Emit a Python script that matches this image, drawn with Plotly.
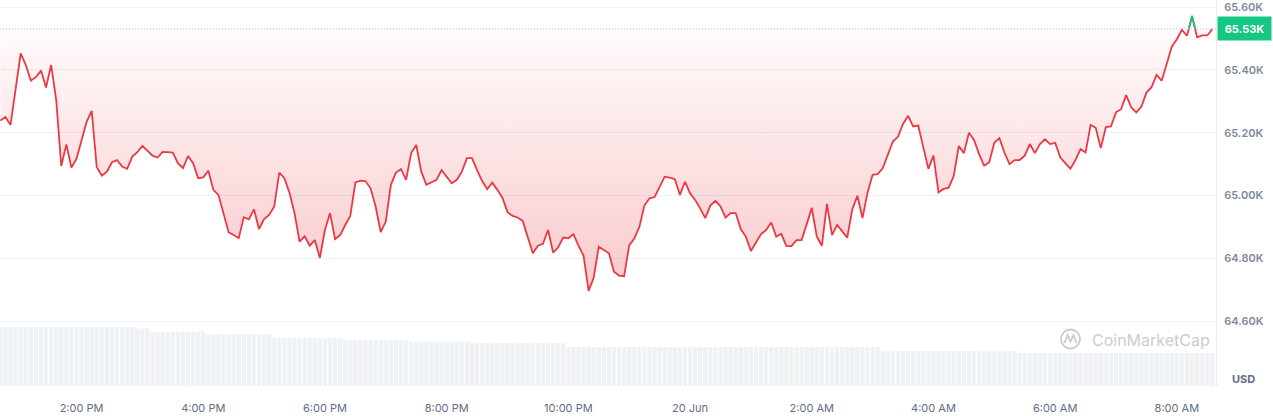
import numpy as np
import pandas as pd
import plotly.graph_objects as go

# ---------------- data ----------------
start_time = "2024-06-19 12:40"
open_price = 65531          # dotted reference line
current_label = "65.53K"

prices = [
    65239, 65250, 65225, 65340, 65453, 65416, 65366, 65377, 65398, 65344,
    65416, 65305, 65094, 65163, 65089, 65117, 65179, 65235, 65270, 65090,
    65063, 65076, 65106, 65113, 65092, 65085, 65124, 65138, 65158, 65143,
    65127, 65121, 65139, 65138, 65137, 65103, 65087, 65126, 65103, 65055,
    65058, 65079, 65018, 65002, 64944, 64883, 64874, 64864, 64931, 64924,
    64956, 64893, 64925, 64938, 64965, 65073, 65055, 65009, 64944, 64853,
    64870, 64840, 64858, 64801, 64890, 64944, 64861, 64874, 64906, 64935,
    65042, 65047, 65046, 65023, 64965, 64883, 64917, 65034, 65073, 65084,
    65050, 65135, 65161, 65076, 65034, 65041, 65050, 65081, 65060, 65039,
    65050, 65076, 65119, 65119, 65081, 65046, 65020, 65041, 65018, 64993,
    64947, 64935, 64930, 64919, 64867, 64816, 64840, 64846, 64890, 64818,
    64835, 64866, 64864, 64877, 64840, 64808, 64696, 64738, 64837, 64827,
    64816, 64757, 64745, 64743, 64841, 64863, 64900, 64968, 64991, 64995,
    65028, 65060, 65057, 65052, 65002, 65044, 65007, 64986, 64959, 64928,
    64968, 64983, 64965, 64930, 64944, 64944, 64893, 64869, 64823, 64848,
    64877, 64890, 64914, 64869, 64878, 64839, 64839, 64858, 64858, 64908,
    64961, 64869, 64840, 64973, 64874, 64906, 64885, 64866, 64956, 64999,
    64928, 65009, 65066, 65068, 65087, 65129, 65172, 65187, 65228, 65254,
    65220, 65223, 65156, 65085, 65127, 65010, 65021, 65025, 65062, 65158,
    65135, 65200, 65177, 65132, 65095, 65106, 65168, 65183, 65137, 65100,
    65113, 65113, 65127, 65164, 65135, 65164, 65179, 65164, 65168, 65122,
    65103, 65085, 65113, 65148, 65137, 65225, 65216, 65151, 65218, 65220,
    65265, 65275, 65320, 65281, 65265, 65283, 65328, 65345, 65384, 65366,
    65419, 65474, 65498, 65528, 65509, 65572, 65504, 65510, 65510, 65530,
]

# volume (relative units, read as step levels)
volume = ([29.6] * 27 + [28.8] * 3 + [27.2] * 11 + [25.8] * 13 + [24.0] * 14 +
          [23.0] * 13 + [22.2] * 12 + [21.5] * 19 + [19.4] * 62 + [17.5] * 27 +
          [16.5] * 39)

x_tick_times = ["2024-06-19 14:00", "2024-06-19 16:00", "2024-06-19 18:00",
                "2024-06-19 20:00", "2024-06-19 22:00", "2024-06-20 00:00",
                "2024-06-20 02:00", "2024-06-20 04:00", "2024-06-20 06:00",
                "2024-06-20 08:00"]
x_tick_text = ["2:00 PM", "4:00 PM", "6:00 PM", "8:00 PM", "10:00 PM",
               "20 Jun", "2:00 AM", "4:00 AM", "6:00 AM", "8:00 AM"]
y_tick_vals = [64600, 64800, 65000, 65200, 65400, 65600]
y_tick_text = ["64.60K", "64.80K", "65.00K", "65.20K", "65.40K", "65.60K"]

x_range = ["2024-06-19 12:39:36", "2024-06-20 08:38:36"]
y_range = [64393, 65623]
vol_range = [0, 193]

RED = "#ea3943"
GREEN = "#16c784"

# ---------------- build ----------------
times = pd.date_range(start_time, periods=len(prices), freq="5min")
p = np.array(prices, dtype=float)
tn = times.asi8.astype(float)

# green segments where price is above the open line
gx, gy = [], []
above = p > open_price
n = len(p)
for i in range(n):
    if not above[i]:
        continue
    if i > 0 and not above[i - 1]:
        f = (open_price - p[i - 1]) / (p[i] - p[i - 1])
        gx.append(pd.Timestamp(int(tn[i - 1] + f * (tn[i] - tn[i - 1]))))
        gy.append(open_price)
    gx.append(times[i])
    gy.append(p[i])
    if i < n - 1 and not above[i + 1]:
        f = (open_price - p[i]) / (p[i + 1] - p[i])
        gx.append(pd.Timestamp(int(tn[i] + f * (tn[i + 1] - tn[i]))))
        gy.append(open_price)
        gx.append(None)
        gy.append(None)

fig = go.Figure()

fig.add_trace(go.Bar(x=times, y=volume, yaxis="y2",
                     marker=dict(color="#eff2f5", line=dict(width=0)),
                     hoverinfo="skip"))

fig.add_trace(go.Scatter(x=times, y=[open_price] * n, mode="lines",
                         line=dict(width=0, color="rgba(0,0,0,0)"),
                         hoverinfo="skip"))
fig.add_trace(go.Scatter(
    x=times, y=prices, mode="lines",
    line=dict(color=RED, width=1.8),
    fill="tonexty",
    fillgradient=dict(type="vertical",
                      colorscale=[[0, "rgba(234,57,67,0.27)"],
                                  [1, "rgba(234,57,67,0.02)"]],
                      start=min(prices), stop=open_price),
    hoverinfo="skip"))
fig.add_trace(go.Scatter(x=gx, y=gy, mode="lines",
                         line=dict(color=GREEN, width=1.8),
                         connectgaps=False, hoverinfo="skip"))

PW, PH = 1216, 386


def px_x(v):
    return v / PW


def px_y(v):
    return (PH - v) / PH


shapes = [
    dict(type="line", xref="paper", x0=0, x1=1, yref="y",
         y0=open_price, y1=open_price,
         line=dict(color="#b3b9c4", width=1, dash="1px,2px")),
    # watermark logo
    dict(type="circle", xref="paper", yref="paper",
         x0=px_x(1061), x1=px_x(1080), y0=px_y(348.5), y1=px_y(329.5),
         line=dict(color="#c8ccd4", width=1.8)),
    dict(type="path", xref="paper", yref="paper",
         path=("M {} {} L {} {} L {} {} L {} {} L {} {}".format(
             px_x(1064.5), px_y(343), px_x(1067.5), px_y(335),
             px_x(1070.5), px_y(341.5), px_x(1073.5), px_y(335),
             px_x(1076.5), px_y(343))),
         line=dict(color="#c8ccd4", width=1.8)),
]

annotations = [
    dict(xref="paper", x=1, xanchor="left", xshift=1, yref="y", y=open_price,
         yanchor="middle", text=f"<b>{current_label}</b>", showarrow=False,
         bgcolor=GREEN, width=49, height=19, borderpad=2,
         font=dict(family="Inter", size=11, color="white")),
    dict(xref="paper", x=1, xanchor="left", xshift=14, yref="paper",
         y=px_y(378.5), yanchor="middle", text="<b>USD</b>", showarrow=False,
         font=dict(family="Inter", size=11, color="#616e85")),
    dict(xref="paper", x=px_x(1090), xanchor="left", yref="paper",
         y=px_y(339.5), yanchor="middle", text="CoinMarketCap",
         showarrow=False,
         font=dict(family="Inter", size=16, color="#c8ccd4")),
]

fig.update_layout(
    width=1273, height=416,
    margin=dict(l=0, r=57, t=0, b=30),
    paper_bgcolor="white", plot_bgcolor="white",
    showlegend=False, hovermode=False, bargap=0.15,
    shapes=shapes, annotations=annotations,
    xaxis=dict(type="date", range=x_range, tickvals=x_tick_times,
               ticktext=x_tick_text, showgrid=False, zeroline=False,
               showline=False, ticks="outside", ticklen=12,
               tickcolor="rgba(0,0,0,0)",
               tickfont=dict(family="Inter", size=11, color="#616e85")),
    yaxis=dict(side="right", range=y_range, tickvals=y_tick_vals,
               ticktext=y_tick_text, showgrid=True, gridcolor="#eff1f4",
               gridwidth=1, zeroline=False, showline=True,
               linecolor="#e8ebef", linewidth=1, ticks="outside", ticklen=5,
               tickcolor="rgba(0,0,0,0)",
               tickfont=dict(family="Inter", size=11, color="#808a9d",
                             weight=600)),
    yaxis2=dict(overlaying="y", range=vol_range, visible=False,
                fixedrange=True),
)

fig.write_html("out.html",
               config={"displayModeBar": False},
               post_script="document.body.style.margin='0';")
